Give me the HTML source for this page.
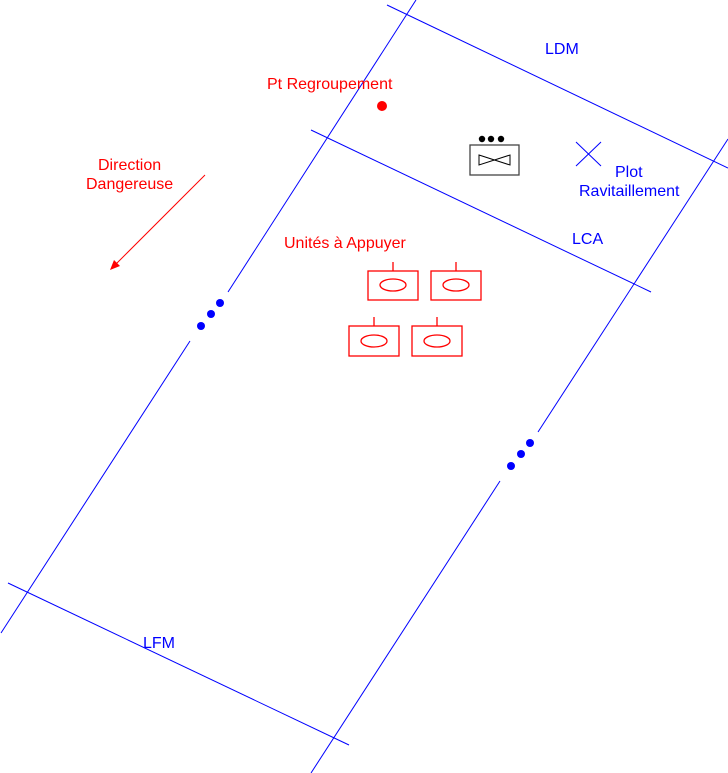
<!DOCTYPE html>
<html><head><meta charset="utf-8"><style>
body{margin:0;background:#fff}
svg{display:block}
text{font-family:"Liberation Sans",sans-serif;font-size:16px}
</style></head><body>
<svg width="728" height="773" viewBox="0 0 728 773">
<g stroke="#0000ff" stroke-width="1" fill="none">
<line x1="416" y1="0" x2="228" y2="292"/>
<line x1="190" y1="341" x2="1" y2="633"/>
<line x1="728" y1="139" x2="538" y2="432"/>
<line x1="500" y1="481" x2="311" y2="773"/>
<line x1="387" y1="5" x2="728" y2="168"/>
<line x1="311" y1="130" x2="651" y2="292"/>
<line x1="8" y1="583" x2="349" y2="745"/>
<line x1="576" y1="142" x2="601" y2="166"/>
<line x1="601" y1="142" x2="576" y2="166"/>
</g>
<g fill="#0000ff">
<circle cx="220" cy="303" r="4"/><circle cx="211" cy="314" r="4"/><circle cx="201" cy="326" r="4"/>
<circle cx="530" cy="443" r="4"/><circle cx="521" cy="454" r="4"/><circle cx="511" cy="466" r="4"/>
</g>
<g fill="#0000ff">
<text x="545" y="54">LDM</text>
<text x="572" y="244">LCA</text>
<text x="143" y="648">LFM</text>
<text x="615" y="177">Plot</text>
<text x="579" y="196">Ravitaillement</text>
</g>
<g fill="#ff0000">
<text x="267" y="89">Pt Regroupement</text>
<text x="98" y="170">Direction</text>
<text x="86" y="189">Dangereuse</text>
<text x="284" y="248">Unités à Appuyer</text>
<circle cx="382" cy="106" r="5"/>
</g>
<line x1="205" y1="175" x2="114" y2="266" stroke="#ff0000"/>
<polygon points="110,270 114,260 120,266" fill="#ff0000"/>
<g stroke="#ff0000" fill="none" stroke-width="1.3">
<rect x="368" y="271" width="50" height="29"/><line x1="393" y1="262" x2="393" y2="271"/><ellipse cx="393" cy="285" rx="13" ry="6"/>
<rect x="431" y="271" width="50" height="29"/><line x1="456" y1="262" x2="456" y2="271"/><ellipse cx="456" cy="285" rx="13" ry="6"/>
<rect x="349" y="326" width="50" height="30"/><line x1="374" y1="317" x2="374" y2="326"/><ellipse cx="374" cy="341" rx="13" ry="6"/>
<rect x="412" y="326" width="50" height="30"/><line x1="437" y1="317" x2="437" y2="326"/><ellipse cx="437" cy="341" rx="13" ry="6"/>
</g>
<rect x="470" y="145" width="49" height="30" fill="none" stroke="#444" stroke-width="1.3"/>
<polygon points="479,155 510,165 510,155 479,165" fill="none" stroke="#000" stroke-width="1"/>
<g fill="#000"><circle cx="482" cy="139" r="3.2"/><circle cx="491" cy="139" r="3.2"/><circle cx="501" cy="139" r="3.2"/></g>
</svg>
</body></html>
